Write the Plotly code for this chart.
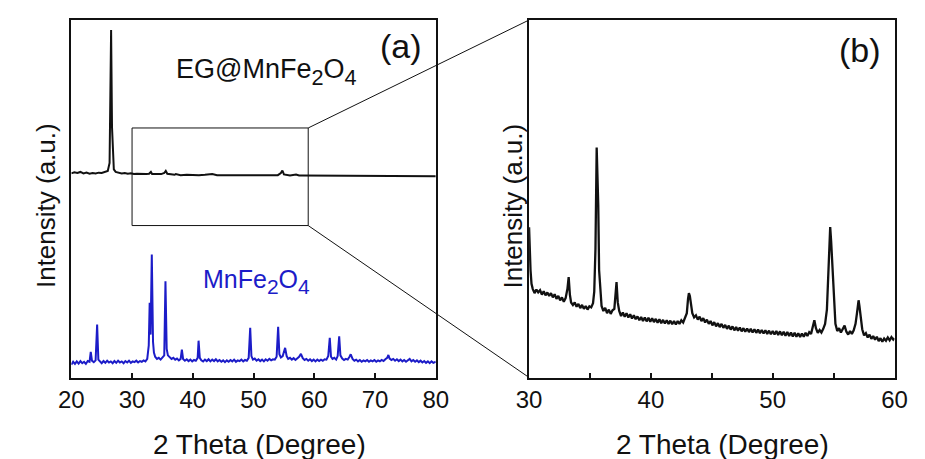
import plotly.graph_objects as go

# ---------------- data ----------------
# (a) MnFe2O4 pattern, 2-theta (deg) and normalised intensity
mn_theta = [20.0, 20.3, 20.6, 20.9, 21.2, 21.5, 21.8, 22.1, 22.4, 22.7, 23.0, 23.2, 23.4, 23.7, 24.0,
            24.25, 24.45, 24.7, 25.0, 25.3, 25.6, 25.9, 26.2, 26.5, 26.8, 27.1, 27.4, 27.7, 28.0, 28.3,
            28.6, 28.9, 29.2, 29.5, 29.8, 30.1, 30.4, 30.7, 31.0, 31.3, 31.6, 31.9, 32.2, 32.5, 32.75,
            32.9, 33.05, 33.25, 33.45, 33.6, 33.8, 34.1, 34.4, 34.7, 35.0, 35.3, 35.5, 35.7, 35.9, 36.2,
            36.5, 36.8, 37.1, 37.4, 37.7, 38.0, 38.2, 38.4, 38.7, 39.0, 39.3, 39.6, 39.9, 40.2, 40.5,
            40.8, 40.95, 41.15, 41.4, 41.7, 42.0, 42.3, 42.6, 42.9, 43.2, 43.5, 43.8, 44.1, 44.4, 44.7,
            45.0, 45.3, 45.6, 45.9, 46.2, 46.5, 46.8, 47.1, 47.4, 47.7, 48.0, 48.3, 48.6, 48.9, 49.2,
            49.45, 49.65, 49.9, 50.2, 50.5, 50.8, 51.1, 51.4, 51.7, 52.0, 52.3, 52.6, 52.9, 53.2, 53.5,
            53.8, 54.05, 54.25, 54.5, 54.8, 55.2, 55.45, 55.7, 56.0, 56.3, 56.6, 56.9, 57.2, 57.5, 57.8,
            58.1, 58.4, 58.7, 59.0, 59.3, 59.6, 59.9, 60.2, 60.5, 60.8, 61.1, 61.4, 61.7, 62.0, 62.3,
            62.55, 62.75, 63.0, 63.3, 63.6, 63.85, 64.1, 64.3, 64.6, 64.9, 65.2, 65.5, 65.8, 66.0, 66.3,
            66.6, 66.9, 67.2, 67.5, 67.8, 68.1, 68.4, 68.7, 69.0, 69.3, 69.6, 69.9, 70.2, 70.5, 70.8,
            71.1, 71.4, 71.7, 72.0, 72.2, 72.4, 72.7, 73.0, 73.3, 73.6, 73.9, 74.2, 74.5, 74.8, 75.1,
            75.4, 75.7, 76.0, 76.3, 76.6, 76.9, 77.2, 77.5, 77.8, 78.1, 78.4, 78.7, 79.0, 79.3, 79.6, 80.0]
mn_int = [0.036, 0.044, 0.038, 0.045, 0.039, 0.046, 0.040, 0.044, 0.038, 0.046, 0.044, 0.072, 0.047, 0.043, 0.048,
          0.148, 0.050, 0.044, 0.040, 0.046, 0.041, 0.047, 0.042, 0.045, 0.040, 0.046, 0.041, 0.047, 0.042, 0.045,
          0.040, 0.046, 0.042, 0.047, 0.041, 0.045, 0.043, 0.047, 0.042, 0.046, 0.044, 0.048, 0.045, 0.052, 0.090,
          0.209, 0.120, 0.344, 0.100, 0.070, 0.058, 0.052, 0.055, 0.050, 0.055, 0.062, 0.269, 0.080, 0.062, 0.056,
          0.052, 0.055, 0.050, 0.053, 0.048, 0.052, 0.078, 0.052, 0.047, 0.051, 0.046, 0.050, 0.045, 0.049, 0.047,
          0.055, 0.103, 0.055, 0.048, 0.045, 0.050, 0.046, 0.051, 0.045, 0.050, 0.046, 0.051, 0.045, 0.049, 0.044,
          0.048, 0.043, 0.048, 0.044, 0.049, 0.045, 0.050, 0.044, 0.048, 0.046, 0.050, 0.045, 0.049, 0.047, 0.055,
          0.139, 0.060, 0.050, 0.053, 0.047, 0.051, 0.046, 0.050, 0.045, 0.051, 0.047, 0.052, 0.048, 0.051, 0.050,
          0.058, 0.142, 0.065, 0.056, 0.060, 0.083, 0.060, 0.052, 0.055, 0.050, 0.054, 0.049, 0.053, 0.058, 0.066,
          0.054, 0.049, 0.052, 0.047, 0.051, 0.046, 0.050, 0.045, 0.050, 0.046, 0.050, 0.047, 0.051, 0.050, 0.060,
          0.111, 0.058, 0.052, 0.055, 0.050, 0.060, 0.115, 0.062, 0.053, 0.049, 0.052, 0.050, 0.058, 0.065, 0.052,
          0.047, 0.050, 0.045, 0.049, 0.044, 0.048, 0.045, 0.049, 0.044, 0.048, 0.045, 0.049, 0.044, 0.048, 0.045,
          0.049, 0.046, 0.051, 0.055, 0.063, 0.053, 0.049, 0.052, 0.047, 0.051, 0.046, 0.050, 0.045, 0.049, 0.044,
          0.048, 0.052, 0.045, 0.049, 0.044, 0.048, 0.043, 0.047, 0.042, 0.046, 0.041, 0.045, 0.040, 0.045, 0.041, 0.044]

# (a) EG@MnFe2O4 pattern
eg_theta = [20.0, 20.5, 21.0, 21.5, 22.0, 22.5, 23.0, 23.5, 24.0, 24.5, 25.0, 25.5, 26.0, 26.3, 26.45,
            26.55, 26.7, 26.85, 27.0, 27.3, 27.8, 28.3, 28.8, 29.3, 29.8, 30.3, 30.8, 31.3, 31.8, 32.3,
            32.8, 33.1, 33.3, 33.8, 34.3, 34.8, 35.3, 35.55, 35.8, 36.3, 37.0, 37.2, 38.0, 39.0, 40.0,
            41.0, 42.0, 43.0, 43.2, 44.0, 45.0, 46.0, 47.0, 48.0, 49.0, 50.0, 51.0, 52.0, 53.0, 54.0,
            54.5, 54.75, 55.0, 55.5, 56.0, 57.0, 57.5, 58.0, 60.0, 62.0, 64.0, 66.0, 68.0, 70.0, 72.0,
            74.0, 76.0, 78.0, 80.0]
eg_int = [0.571, 0.574, 0.572, 0.575, 0.571, 0.573, 0.570, 0.572, 0.571, 0.573, 0.572, 0.574, 0.578, 0.600, 0.750,
          0.972, 0.700, 0.600, 0.582, 0.575, 0.573, 0.571, 0.572, 0.570, 0.571, 0.569, 0.570, 0.569, 0.570, 0.569,
          0.570, 0.575, 0.569, 0.569, 0.568, 0.569, 0.572, 0.578, 0.570, 0.568, 0.567, 0.569, 0.566, 0.567, 0.566,
          0.566, 0.567, 0.568, 0.569, 0.566, 0.566, 0.566, 0.566, 0.565, 0.566, 0.565, 0.565, 0.565, 0.566, 0.566,
          0.572, 0.579, 0.568, 0.566, 0.565, 0.568, 0.565, 0.565, 0.565, 0.564, 0.565, 0.564, 0.564, 0.564, 0.564,
          0.563, 0.564, 0.563, 0.563]

# (b) EG@MnFe2O4, enlarged 30-60 deg region
b_theta = [30.00, 30.05, 30.12, 30.20, 30.30, 30.45, 30.60, 30.75, 30.90, 31.05, 31.20, 31.35, 31.50, 31.65, 31.80,
           31.95, 32.10, 32.25, 32.40, 32.55, 32.70, 32.85, 33.00, 33.15, 33.25, 33.35, 33.45, 33.60, 33.75, 33.90,
           34.05, 34.20, 34.35, 34.50, 34.65, 34.80, 34.95, 35.10, 35.25, 35.35, 35.45, 35.55, 35.62, 35.68, 35.75,
           35.85, 35.95, 36.10, 36.25, 36.40, 36.55, 36.70, 36.85, 37.00, 37.10, 37.18, 37.28, 37.40, 37.55, 37.70,
           37.85, 38.00, 38.15, 38.30, 38.45, 38.60, 38.75, 38.90, 39.05, 39.20, 39.35, 39.50, 39.65, 39.80, 39.95,
           40.10, 40.25, 40.40, 40.55, 40.70, 40.85, 41.00, 41.15, 41.30, 41.45, 41.60, 41.75, 41.90, 42.05, 42.20,
           42.35, 42.50, 42.65, 42.80, 42.95, 43.05, 43.12, 43.20, 43.30, 43.40, 43.55, 43.70, 43.85, 44.00, 44.15,
           44.30, 44.45, 44.60, 44.75, 44.90, 45.05, 45.20, 45.35, 45.50, 45.65, 45.80, 45.95, 46.10, 46.25, 46.40,
           46.55, 46.70, 46.85, 47.00, 47.15, 47.30, 47.45, 47.60, 47.75, 47.90, 48.05, 48.20, 48.35, 48.50, 48.65,
           48.80, 48.95, 49.10, 49.25, 49.40, 49.55, 49.70, 49.85, 50.00, 50.15, 50.30, 50.45, 50.60, 50.75, 50.90,
           51.05, 51.20, 51.35, 51.50, 51.65, 51.80, 51.95, 52.10, 52.25, 52.40, 52.55, 52.70, 52.85, 53.00, 53.15,
           53.30, 53.42, 53.55, 53.70, 53.85, 54.00, 54.15, 54.30, 54.45, 54.55, 54.65, 54.72, 54.80, 54.88, 54.95,
           55.05, 55.15, 55.30, 55.45, 55.60, 55.75, 55.90, 56.05, 56.20, 56.35, 56.50, 56.65, 56.80, 56.92, 57.00,
           57.05, 57.12, 57.22, 57.35, 57.50, 57.65, 57.80, 57.95, 58.10, 58.25, 58.40, 58.55, 58.70, 58.85, 59.00,
           59.15, 59.30, 59.45, 59.60, 59.75, 59.90, 60.00]
b_int = [0.420, 0.360, 0.300, 0.262, 0.248, 0.236, 0.246, 0.238, 0.244, 0.232, 0.241, 0.230, 0.238, 0.228, 0.236,
         0.224, 0.233, 0.220, 0.228, 0.216, 0.224, 0.212, 0.222, 0.248, 0.281, 0.232, 0.210, 0.203, 0.210, 0.198,
         0.206, 0.194, 0.203, 0.192, 0.200, 0.190, 0.199, 0.196, 0.208, 0.240, 0.360, 0.643, 0.560, 0.480, 0.300,
         0.230, 0.200, 0.186, 0.195, 0.180, 0.190, 0.178, 0.188, 0.192, 0.232, 0.267, 0.210, 0.186, 0.172, 0.182,
         0.170, 0.180, 0.168, 0.177, 0.165, 0.174, 0.163, 0.171, 0.160, 0.169, 0.158, 0.168, 0.157, 0.167, 0.156,
         0.166, 0.155, 0.164, 0.153, 0.163, 0.152, 0.161, 0.151, 0.160, 0.150, 0.159, 0.149, 0.158, 0.148, 0.158,
         0.150, 0.160, 0.154, 0.166, 0.180, 0.220, 0.236, 0.228, 0.205, 0.180, 0.168, 0.174, 0.162, 0.170, 0.158,
         0.166, 0.154, 0.162, 0.150, 0.158, 0.146, 0.155, 0.143, 0.152, 0.141, 0.150, 0.139, 0.147, 0.136, 0.145,
         0.134, 0.143, 0.132, 0.141, 0.131, 0.140, 0.129, 0.138, 0.128, 0.137, 0.127, 0.136, 0.126, 0.135, 0.125,
         0.134, 0.124, 0.133, 0.123, 0.132, 0.122, 0.131, 0.121, 0.130, 0.120, 0.130, 0.119, 0.129, 0.118, 0.128,
         0.117, 0.127, 0.116, 0.126, 0.115, 0.125, 0.114, 0.124, 0.113, 0.123, 0.114, 0.125, 0.116, 0.127, 0.122,
         0.140, 0.160, 0.138, 0.125, 0.133, 0.126, 0.136, 0.150, 0.190, 0.260, 0.330, 0.421, 0.380, 0.330, 0.250,
         0.190, 0.150, 0.130, 0.138, 0.126, 0.134, 0.145, 0.128, 0.120, 0.130, 0.122, 0.132, 0.150, 0.180, 0.205,
         0.216, 0.200, 0.170, 0.135, 0.118, 0.124, 0.112, 0.120, 0.108, 0.116, 0.106, 0.114, 0.102, 0.110, 0.100,
         0.109, 0.103, 0.112, 0.104, 0.113, 0.106, 0.110]

a_ticks = [20, 30, 40, 50, 60, 70, 80]
b_ticks = [30, 35, 40, 45, 50, 55, 60]
b_ticktext = ["30", "", "40", "", "50", "", "60"]

# region of (a) that is enlarged in (b): 2-theta span and intensity span
box_theta = [30, 59]
box_int = [0.425, 0.698]

# ---------------- layout helpers ----------------
W, H = 925, 459
FONT = "Arial, Liberation Sans, sans-serif"
BLUE = "rgb(28,28,200)"
INK = "#111111"


def px(x):
    return x / W


def py(y):
    return 1 - y / H


a_dom_x = [px(60), px(435)]
b_dom_x = [px(531), px(907)]
dom_y = [py(377.5), py(20)]
a_range = [20, 80]
b_range = [30, 60]
y_range = [0, 1]

fig = go.Figure()
fig.add_trace(go.Scatter(x=mn_theta, y=mn_int, mode="lines",
                         line=dict(color=BLUE, width=2), xaxis="x", yaxis="y"))
fig.add_trace(go.Scatter(x=eg_theta, y=eg_int, mode="lines",
                         line=dict(color=INK, width=2), xaxis="x", yaxis="y"))
fig.add_trace(go.Scatter(x=b_theta, y=b_int, mode="lines",
                         line=dict(color=INK, width=2.3), xaxis="x2", yaxis="y2"))

axis_common = dict(showline=True, mirror=True, linecolor=INK, linewidth=2,
                   showgrid=False, zeroline=False)
tick_font = dict(size=24, family=FONT, color=INK)

fig.update_layout(
    width=W, height=H, autosize=False,
    margin=dict(l=0, r=0, t=0, b=0),
    paper_bgcolor="white", plot_bgcolor="white",
    showlegend=False,
    font=dict(family=FONT, color=INK),
    xaxis=dict(domain=a_dom_x, range=a_range, tickvals=a_ticks, ticks="inside", ticklen=5,
               tickwidth=1.5, tickcolor=INK, tickfont=tick_font, anchor="y", **axis_common),
    yaxis=dict(domain=dom_y, range=y_range, showticklabels=False, ticks="", anchor="x",
               **axis_common),
    xaxis2=dict(domain=b_dom_x, range=b_range, tickvals=b_ticks, ticktext=b_ticktext,
                ticks="inside", ticklen=5, tickwidth=1.5, tickcolor=INK,
                tickfont=tick_font, anchor="y2", **axis_common),
    yaxis2=dict(domain=dom_y, range=y_range, showticklabels=False, ticks="", anchor="x2",
                **axis_common),
)

# zoom box on (a) and the connectors to the frame of (b)
fig.add_shape(type="rect", xref="x", yref="y", x0=box_theta[0], x1=box_theta[1],
              y0=box_int[0], y1=box_int[1], line=dict(color=INK, width=1))


def a_to_paper(theta, inten):
    fx = a_dom_x[0] + (theta - a_range[0]) / (a_range[1] - a_range[0]) * (a_dom_x[1] - a_dom_x[0])
    fy = dom_y[0] + (inten - y_range[0]) / (y_range[1] - y_range[0]) * (dom_y[1] - dom_y[0])
    return fx, fy


tx, ty = a_to_paper(box_theta[1], box_int[1])
bx, by = a_to_paper(box_theta[1], box_int[0])
fig.add_shape(type="line", xref="paper", yref="paper", x0=tx, y0=ty, x1=b_dom_x[0], y1=dom_y[1],
              line=dict(color=INK, width=1))
fig.add_shape(type="line", xref="paper", yref="paper", x0=bx, y0=by, x1=b_dom_x[0], y1=dom_y[0],
              line=dict(color=INK, width=1))


# text
def note(text, x, y, size, color=INK, angle=0, xanchor="center", yanchor="middle"):
    fig.add_annotation(text=text, x=px(x), y=py(y), xref="paper", yref="paper",
                       showarrow=False, textangle=angle, xanchor=xanchor, yanchor=yanchor,
                       font=dict(size=size, family=FONT, color=color))


def formula(prefix, main_size):
    # subscripts are drawn at 70% of the annotation font, so the annotation font is
    # set larger and the main letters are pinned to main_size
    main = f'<span style="font-size:{main_size}px">'
    return f"{main}{prefix}MnFe</span><sub>2</sub>{main}O</span><sub>4</sub>"


note("2 Theta (Degree)", 254, 444, 28)
note("2 Theta (Degree)", 730, 444, 28)
note("Intensity (a.u.)", 34, 206, 26, angle=-90)
note("Intensity (a.u.)", 514, 206, 26, angle=-90)
note("(a)", 399, 46, 34)
note("(b)", 871, 50, 34)
note(formula("EG@", 27), 261, 72, 31)
note(formula("", 25), 251, 281, 30, color=BLUE)

fig.write_html("out.html")
